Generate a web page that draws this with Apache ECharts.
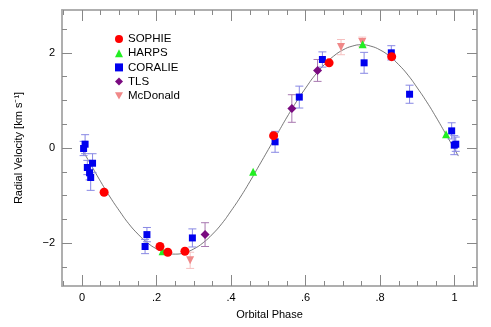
<!DOCTYPE html>
<html>
<head>
<meta charset="utf-8">
<script src="https://cdn.jsdelivr.net/npm/echarts@6/dist/echarts.min.js"></script>
<style>
  html, body { margin: 0; padding: 0; background: #fff; }
  #main { width: 491px; height: 327px; }
</style>
</head>
<body>
<div id="main"></div>
<script>
// [phase, rv (km/s), error]
var sophie = [[0.059, -0.93, 0], [0.209, -2.07, 0], [0.23, -2.19, 0], [0.276, -2.17, 0],
  [0.514, 0.26, 0], [0.663, 1.79, 0], [0.831, 1.92, 0]];
var harps = [[0.216, -2.17, 0], [0.459, -0.5, 0], [0.753, 2.18, 0], [0.977, 0.29, 0]];
var coralie = [[0.004, -0.01, 0.15], [0.008, 0.08, 0.2], [0.014, -0.41, 0.15], [0.02, -0.52, 0.15],
  [0.023, -0.62, 0.27], [0.028, -0.32, 0.2], [0.169, -2.07, 0.15], [0.174, -1.82, 0.15],
  [0.296, -1.89, 0.19], [0.518, 0.13, 0.22], [0.583, 1.07, 0.23], [0.645, 1.86, 0.16],
  [0.757, 1.79, 0.22], [0.83, 2.0, 0.15], [0.879, 1.13, 0.19], [0.992, 0.36, 0.17],
  [0.999, 0.06, 0.2], [1.003, 0.08, 0.15]];
var tls = [[0.33, -1.82, 0.25], [0.563, 0.83, 0.29], [0.632, 1.63, 0.23]];
var mcdonald = [[0.29, -2.36, 0.17], [0.695, 2.12, 0.16], [0.752, 2.23, 0.1]];

// orbit model curve
var modelPhase = [0, 0.025, 0.05, 0.075, 0.1, 0.125, 0.15, 0.175, 0.2, 0.225, 0.25, 0.275, 0.3,
  0.325, 0.35, 0.375, 0.4, 0.425, 0.45, 0.475, 0.5, 0.525, 0.55, 0.575, 0.6, 0.625, 0.65,
  0.675, 0.7, 0.725, 0.75, 0.775, 0.8, 0.825, 0.85, 0.875, 0.9, 0.925, 0.95, 0.975, 1.0, 1.01];
var modelRv = [-0.03, -0.37, -0.71, -1.03, -1.32, -1.59, -1.81, -1.99, -2.12, -2.2, -2.23, -2.2, -2.12,
  -1.99, -1.81, -1.59, -1.32, -1.03, -0.71, -0.37, -0.03, 0.31, 0.65, 0.97, 1.26, 1.53, 1.75,
  1.93, 2.06, 2.14, 2.17, 2.14, 2.06, 1.93, 1.75, 1.53, 1.26, 0.97, 0.65, 0.31, -0.03, -0.17];

var xMajor = [0, 0.2, 0.4, 0.6, 0.8, 1];
var xMinor = [-0.05, 0.05, 0.1, 0.15, 0.25, 0.3, 0.35, 0.45, 0.5, 0.55, 0.65, 0.7, 0.75, 0.85, 0.9, 0.95, 1.05];
var yMajor = [-2, 0, 2];
var yMinor = [-2.5, -1.5, -1, -0.5, 0.5, 1, 1.5, 2.5];

var chart = echarts.init(document.getElementById('main'));
var axisGray = '#aaaaaa';
var font = 'Liberation Sans';

function xAx(pos, vals, len, labels) {
  return {
    type: 'value', position: pos, min: -0.054, max: 1.06,
    axisLine: { show: true, onZero: false, lineStyle: { color: axisGray, width: 1.5 } },
    axisTick: { show: true, inside: true, length: len, customValues: vals, lineStyle: { color: '#888' } },
    axisLabel: labels ? {
      show: true, customValues: xMajor, margin: 6, color: '#000', fontSize: 11, fontFamily: font,
      formatter: function (v) { return v === 0 ? '0' : v === 1 ? '1' : String(v).replace('0.', '.'); }
    } : { show: false },
    splitLine: { show: false }
  };
}
function yAx(pos, vals, len, labels) {
  return {
    type: 'value', position: pos, min: -2.9, max: 2.9,
    axisLine: { show: true, onZero: false, lineStyle: { color: axisGray, width: 1.5 } },
    axisTick: { show: true, inside: true, length: len, customValues: vals, lineStyle: { color: '#888' } },
    axisLabel: labels ? {
      show: true, customValues: yMajor, margin: 7, color: '#000', fontSize: 11, fontFamily: font,
      formatter: function (v) { return v < 0 ? '\u2212' + (-v) : String(v); }
    } : { show: false },
    splitLine: { show: false }
  };
}

var xAxes = [xAx('bottom', xMajor, 11, true), xAx('bottom', xMinor, 5), xAx('top', xMajor, 11), xAx('top', xMinor, 5)];
xAxes[0].name = 'Orbital Phase';
xAxes[0].nameLocation = 'middle';
xAxes[0].nameGap = 23;
xAxes[0].nameTextStyle = { color: '#000', fontSize: 11, fontFamily: font };
var yAxes = [yAx('left', yMajor, 10, true), yAx('left', yMinor, 5), yAx('right', yMajor, 10), yAx('right', yMinor, 5)];
yAxes[0].name = 'Radial Velocity [km s\u207B\u00B9]';
yAxes[0].nameLocation = 'middle';
yAxes[0].nameGap = 38;
yAxes[0].nameTextStyle = { color: '#000', fontSize: 11, fontFamily: font };

function errBars(data, color) {
  return {
    type: 'custom', silent: true, z: 2,
    data: data,
    renderItem: function (params, api) {
      var x = api.value(0), y = api.value(1), e = api.value(2);
      if (!e) return;
      var top = api.coord([x, y + e]);
      var bot = api.coord([x, y - e]);
      var st = { stroke: color, lineWidth: 1 };
      return {
        type: 'group', children: [
          { type: 'line', shape: { x1: top[0], y1: top[1], x2: bot[0], y2: bot[1] }, style: st },
          { type: 'line', shape: { x1: top[0] - 4, y1: top[1], x2: top[0] + 4, y2: top[1] }, style: st },
          { type: 'line', shape: { x1: bot[0] - 4, y1: bot[1], x2: bot[0] + 4, y2: bot[1] }, style: st }
        ]
      };
    }
  };
}

function pts(name, data, color, symbol, size, rot) {
  return {
    name: name, type: 'scatter', z: 3, data: data.map(function (d) { return [d[0], d[1]]; }),
    symbol: symbol, symbolSize: size, symbolRotate: rot || 0,
    itemStyle: { color: color, opacity: 1 }
  };
}

var option = {
  animation: false,
  grid: { left: 62, right: 14, top: 10, bottom: 41 },
  xAxis: xAxes,
  yAxis: yAxes,
  legend: {
    orient: 'vertical', left: 110, top: 28, itemWidth: 8, itemHeight: 8, itemGap: 2.2,
    textStyle: { color: '#000', fontSize: 11.5, fontFamily: font, lineHeight: 12 },
    data: [
      { name: 'SOPHIE', icon: 'circle' },
      { name: 'HARPS', icon: 'triangle' },
      { name: 'CORALIE', icon: 'rect' },
      { name: 'TLS', icon: 'diamond' },
      { name: 'McDonald', icon: 'path://M0,0L10,0L5,9Z' }
    ]
  },
  series: [
    {
      type: 'line', z: 1, silent: true, showSymbol: false, symbol: 'none',
      data: modelPhase.map(function (p, i) { return [p, modelRv[i]]; }),
      smooth: true,
      lineStyle: { color: '#555', width: 0.8 }
    },
    errBars(coralie, '#8888e4'),
    errBars(tls, '#a878b0'),
    errBars(mcdonald, '#f6c0c0'),
    pts('CORALIE', coralie, '#0000ee', 'rect', 7),
    pts('TLS', tls, '#7a0a80', 'diamond', 9),
    pts('McDonald', mcdonald, '#f08888', 'triangle', 8, 180),
    pts('HARPS', harps, '#22ee22', 'triangle', 8),
    pts('SOPHIE', sophie, '#ff0000', 'circle', 9)
  ]
};
chart.setOption(option);
</script>
</body>
</html>
